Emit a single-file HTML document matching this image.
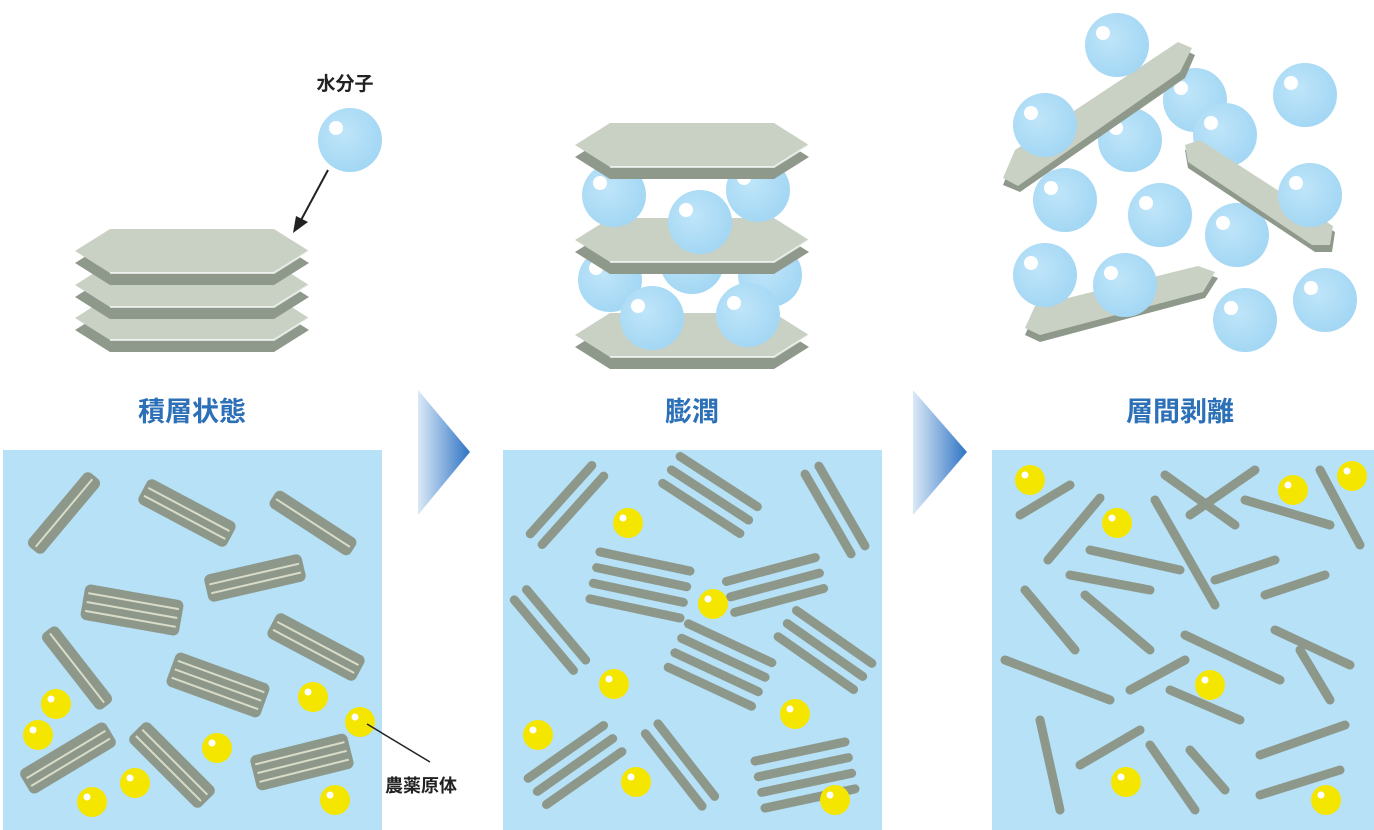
<!DOCTYPE html>
<html><head><meta charset="utf-8"><style>
html,body{margin:0;padding:0;background:#fff;width:1374px;height:830px;overflow:hidden}
svg{display:block}
text{font-family:"Liberation Sans","Noto Sans CJK JP",sans-serif;font-weight:bold}
</style></head><body>
<svg width="1374" height="830" viewBox="0 0 1374 830" xmlns="http://www.w3.org/2000/svg">
<defs>
<linearGradient id="ag" x1="0" x2="1" y1="0" y2="0"><stop offset="0" stop-color="#dbe9f7"/><stop offset="1" stop-color="#2f74c4"/></linearGradient>
<radialGradient id="bub" cx="0.4" cy="0.4" r="0.7"><stop offset="0" stop-color="#bfe5f9"/><stop offset="1" stop-color="#9fd5f3"/></radialGradient>
<g id="b"><circle r="32" fill="url(#bub)"/><circle cx="-14" cy="-12" r="7" fill="#fff"/></g>
<g id="y"><circle r="15" fill="#f5e600"/><circle cx="-5" cy="-5" r="3.5" fill="#fff"/></g>
<g id="plate"><polygon points="-117,12 -82,-10 82,-10 117,12 82,34 -82,34" fill="#8e998b"/><polygon points="-117,0 -82,-22 82,-22 117,0 82,22 -82,22" fill="#c9d1c5"/><polyline points="-82,22 82,22 117,0" fill="none" stroke="#fff" stroke-width="2" opacity=".7"/></g>
<g id="r2"><rect x="-48" y="-10" width="96" height="20" rx="6" fill="#8d988a"/><line x1="-44" y1="0" x2="44" y2="0" stroke="#d8dcc8" stroke-width="2"/></g>
<g id="r3"><rect x="-50" y="-14" width="100" height="28" rx="6" fill="#8d988a"/><line x1="-46" y1="-4" x2="46" y2="-4" stroke="#d8dcc8" stroke-width="2"/><line x1="-46" y1="5" x2="46" y2="5" stroke="#d8dcc8" stroke-width="2"/></g>
<g id="r4"><rect x="-50" y="-18" width="100" height="36" rx="6" fill="#8d988a"/><line x1="-46" y1="-9" x2="46" y2="-9" stroke="#d8dcc8" stroke-width="2"/><line x1="-46" y1="0" x2="46" y2="0" stroke="#d8dcc8" stroke-width="2"/><line x1="-46" y1="9" x2="46" y2="9" stroke="#d8dcc8" stroke-width="2"/></g>
<g id="m2" stroke="#8d988a" stroke-width="9" stroke-linecap="round"><line x1="-46" y1="-8" x2="46" y2="-8"/><line x1="-46" y1="8" x2="46" y2="8"/></g>
<g id="m3" stroke="#8d988a" stroke-width="9" stroke-linecap="round"><line x1="-46" y1="-16" x2="46" y2="-16"/><line x1="-46" y1="0" x2="46" y2="0"/><line x1="-46" y1="16" x2="46" y2="16"/></g>
<g id="m4" stroke="#8d988a" stroke-width="9" stroke-linecap="round"><line x1="-46" y1="-24" x2="46" y2="-24"/><line x1="-46" y1="-8" x2="46" y2="-8"/><line x1="-46" y1="8" x2="46" y2="8"/><line x1="-46" y1="24" x2="46" y2="24"/></g>
</defs>

<rect x="3" y="450" width="379" height="380" fill="#b6e1f7"/>
<rect x="503" y="450" width="379" height="380" fill="#b6e1f7"/>
<rect x="992" y="450" width="382" height="380" fill="#b6e1f7"/>

<polygon points="418,390 470,452 418,515" fill="url(#ag)"/>
<polygon points="913,390 967,452 913,515" fill="url(#ag)"/>

<text x="192" y="421" font-size="27" fill="#2c70b8" text-anchor="middle">積層状態</text>
<text x="692" y="421" font-size="27" fill="#2c70b8" text-anchor="middle">膨潤</text>
<text x="1180" y="421" font-size="27" fill="#2c70b8" text-anchor="middle">層間剥離</text>

<use href="#plate" x="192" y="318"/>
<use href="#plate" x="192" y="285"/>
<use href="#plate" x="192" y="251"/>
<text x="345" y="90" font-size="19" fill="#222" text-anchor="middle">水分子</text>
<use href="#b" x="350" y="140"/>
<line x1="328" y1="170" x2="300" y2="222" stroke="#222" stroke-width="2"/>
<polygon points="293,233 296,216 308,222" fill="#222"/>

<use href="#plate" x="692" y="335"/>
<use href="#b" x="610" y="280"/><use href="#b" x="692" y="262"/><use href="#b" x="770" y="275"/>
<use href="#b" x="652" y="318"/><use href="#b" x="748" y="315"/>
<use href="#plate" x="692" y="240"/>
<use href="#b" x="614" y="195"/><use href="#b" x="758" y="190"/><use href="#b" x="700" y="222"/>
<use href="#plate" x="692" y="145"/>

<use href="#b" x="1130" y="140"/><use href="#b" x="1195" y="100"/><use href="#b" x="1225" y="135"/>
<polygon points="1003,185 1015,155 1180,48 1195,55 1185,78 1020,192" fill="#8e998b"/>
<polygon points="1003,178 1015,150 1178,42 1192,48 1180,72 1018,186" fill="#c9d1c5"/>
<use href="#b" x="1117" y="45"/><use href="#b" x="1045" y="125"/><use href="#b" x="1305" y="95"/>
<use href="#b" x="1065" y="200"/><use href="#b" x="1160" y="215"/><use href="#b" x="1237" y="235"/>
<polygon points="1185,150 1200,145 1335,232 1332,252 1315,252 1188,168" fill="#8e998b"/>
<polygon points="1185,145 1200,140 1333,226 1330,245 1312,245 1188,162" fill="#c9d1c5"/>
<use href="#b" x="1310" y="195"/>
<polygon points="1025,335 1035,312 1200,272 1218,278 1205,298 1040,342" fill="#8e998b"/>
<polygon points="1025,328 1035,306 1198,266 1215,272 1203,292 1040,335" fill="#c9d1c5"/>
<use href="#b" x="1045" y="275"/><use href="#b" x="1125" y="285"/><use href="#b" x="1245" y="320"/><use href="#b" x="1325" y="300"/>

<use href="#r2" transform="translate(64,513) rotate(-50)"/>
<use href="#r3" transform="translate(187,513) rotate(28)"/>
<use href="#r2" transform="translate(313,523) rotate(33)"/>
<use href="#r4" transform="translate(132,610) rotate(10)"/>
<use href="#r3" transform="translate(255,578) rotate(-13)"/>
<use href="#r2" transform="translate(77,668) rotate(52)"/>
<use href="#r3" transform="translate(316,647) rotate(28)"/>
<use href="#r4" transform="translate(218,685) rotate(20)"/>
<use href="#r3" transform="translate(68,758) rotate(-31)"/>
<use href="#r3" transform="translate(172,765) rotate(45)"/>
<use href="#r4" transform="translate(302,762) rotate(-14)"/>
<use href="#y" x="56" y="704"/><use href="#y" x="38" y="735"/><use href="#y" x="92" y="802"/><use href="#y" x="135" y="783"/><use href="#y" x="217" y="748"/><use href="#y" x="313" y="697"/><use href="#y" x="360" y="722"/><use href="#y" x="335" y="800"/>
<line x1="367" y1="724" x2="430" y2="762" stroke="#222" stroke-width="1.5"/>
<text x="385" y="792" font-size="18" fill="#222">農薬原体</text>

<use href="#m2" transform="translate(567,505) rotate(-48)"/>
<use href="#m3" transform="translate(710,495) rotate(33)"/>
<use href="#m2" transform="translate(835,510) rotate(60)"/>
<use href="#m4" transform="translate(640,585) rotate(12)"/>
<use href="#m3" transform="translate(775,585) rotate(-15)"/>
<use href="#m2" transform="translate(550,630) rotate(50)"/>
<use href="#m4" transform="translate(720,665) rotate(25)"/>
<use href="#m3" transform="translate(825,650) rotate(35)"/>
<use href="#m3" transform="translate(575,765) rotate(-35)"/>
<use href="#m2" transform="translate(680,765) rotate(52)"/>
<use href="#m4" transform="translate(805,775) rotate(-12)"/>
<use href="#y" x="628" y="523"/><use href="#y" x="713" y="604"/><use href="#y" x="614" y="684"/><use href="#y" x="795" y="714"/><use href="#y" x="538" y="735"/><use href="#y" x="636" y="782"/><use href="#y" x="835" y="800"/>

<g stroke="#8d988a" stroke-width="9" stroke-linecap="round">
<line x1="1020" y1="515" x2="1070" y2="485"/><line x1="1048" y1="560" x2="1100" y2="498"/>
<line x1="1090" y1="550" x2="1180" y2="570"/><line x1="1070" y1="575" x2="1150" y2="590"/>
<line x1="1165" y1="475" x2="1235" y2="525"/><line x1="1190" y1="515" x2="1255" y2="470"/>
<line x1="1155" y1="500" x2="1215" y2="605"/><line x1="1245" y1="500" x2="1330" y2="525"/>
<line x1="1320" y1="470" x2="1360" y2="545"/><line x1="1215" y1="580" x2="1275" y2="560"/>
<line x1="1265" y1="595" x2="1325" y2="575"/><line x1="1025" y1="590" x2="1075" y2="650"/>
<line x1="1085" y1="595" x2="1150" y2="650"/><line x1="1185" y1="635" x2="1280" y2="680"/>
<line x1="1275" y1="630" x2="1350" y2="665"/><line x1="1005" y1="660" x2="1110" y2="700"/>
<line x1="1130" y1="690" x2="1185" y2="660"/><line x1="1170" y1="690" x2="1240" y2="720"/>
<line x1="1300" y1="650" x2="1330" y2="700"/><line x1="1040" y1="720" x2="1060" y2="810"/>
<line x1="1080" y1="765" x2="1140" y2="730"/><line x1="1150" y1="745" x2="1195" y2="810"/>
<line x1="1190" y1="750" x2="1225" y2="790"/><line x1="1260" y1="755" x2="1345" y2="725"/>
<line x1="1260" y1="795" x2="1340" y2="770"/>
</g>
<use href="#y" x="1030" y="480"/><use href="#y" x="1117" y="523"/><use href="#y" x="1293" y="490"/><use href="#y" x="1352" y="476"/><use href="#y" x="1210" y="685"/><use href="#y" x="1126" y="782"/><use href="#y" x="1326" y="800"/>
</svg>
</body></html>
